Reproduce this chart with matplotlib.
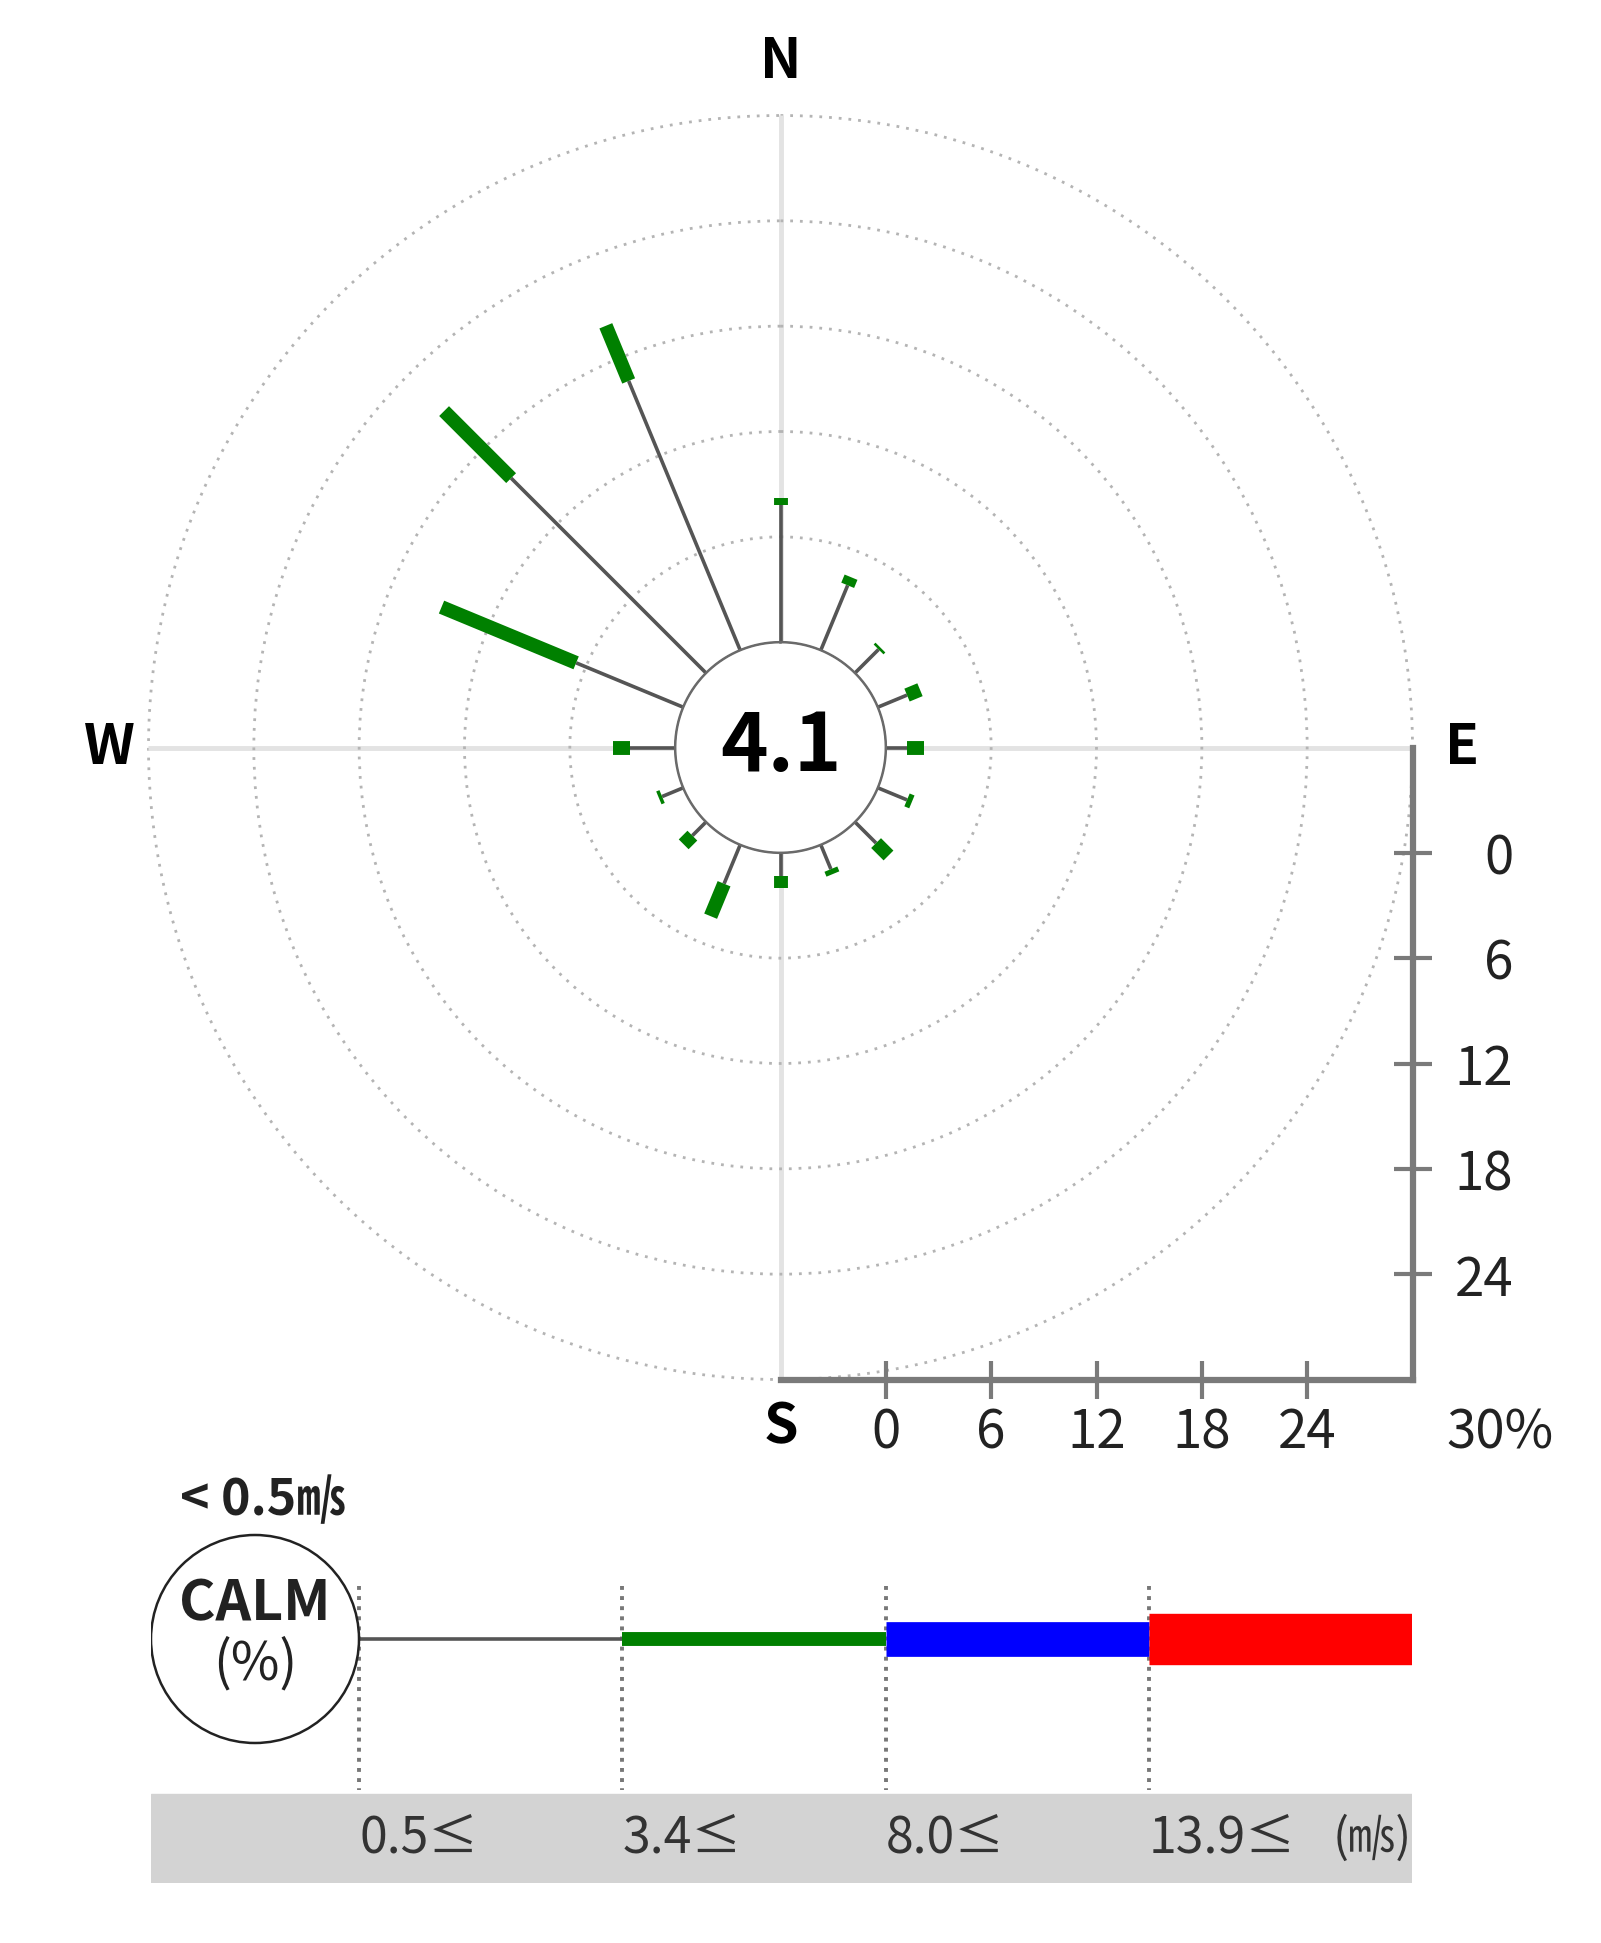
import numpy as np
import matplotlib.pyplot as plt
from matplotlib.patches import Circle

plt.rcParams.update({
    "font.family": ["Noto Sans CJK KR", "DejaVu Sans"],
    "axes.unicode_minus": False,
})

# ---- data (% of observations per direction and speed class) ----
DIRECTIONS = ["N", "NNE", "NE", "ENE", "E", "ESE", "SE", "SSE",
              "S", "SSW", "SW", "WSW", "W", "WNW", "NW", "NNW"]
CALM = 4.1
SPD_0_5 = [7.8, 4.0, 1.9, 1.8, 1.2, 1.8, 1.7, 1.5, 1.3, 2.4, 1.1, 1.3, 2.6, 6.6, 15.7, 16.6]
SPD_3_4 = [0.4, 0.5, 0.15, 0.8, 1.0, 0.3, 1.0, 0.3, 0.7, 2.0, 0.7, 0.2, 0.95, 8.3, 5.4, 3.4]
SPD_8_0 = [0, 0, 0, 0, 0, 0, 0, 0, 0, 0, 0, 0, 0, 0, 0, 0]
SPD_13_9 = [0, 0, 0, 0, 0, 0, 0, 0, 0, 0, 0, 0, 0, 0, 0, 0]
BIN_LABELS = ["0.5≤", "3.4≤", "8.0≤", "13.9≤"]
RING_TICKS = [0, 6, 12, 18, 24]
RINGS = [6, 12, 18, 24]
R_MAX = 30
COMPASS = ["N", "E", "S", "W"]

BIN_COLORS = ["#555555", "#008000", "#0000ff", "#ff0000"]
BIN_LW = [2.6, 10, 25, 37]
AXIS_GRAY = "#7a7a7a"
RING_STYLE = dict(color="#b4b4b4", lw=2.0, ls=(0, (1, 2.5)))
TXT = "#222222"

W, H, DPI = 1601, 1943, 100
CX, CY, RPX = 780.5, 747.5, 632   # rose centre / outer radius in pixels

fig = plt.figure(figsize=(W / DPI, H / DPI), dpi=DPI)

# ---- wind rose ----
ax = fig.add_axes([(CX - RPX) / W, (H - CY - RPX) / H, 2 * RPX / W, 2 * RPX / H],
                  projection="polar")
ax.set_theta_zero_location("N")
ax.set_theta_direction(-1)
ax.set_rlim(0, R_MAX)
ax.set_rorigin(-6)
ax.set_yticks(RINGS)
ax.yaxis.set_ticklabels([])
ax.set_thetagrids([0, 90, 180, 270], labels=["", "", "", ""])
ax.yaxis.grid(True, **RING_STYLE)
ax.xaxis.grid(True, color="#e3e3e3", lw=3.5)
ax.tick_params(axis="x", length=0)
for sp in ax.spines.values():
    sp.set_visible(False)

ring = np.linspace(0, 2 * np.pi, 400)
ax.plot(ring, np.full_like(ring, R_MAX), clip_on=False, zorder=1, **RING_STYLE)

# compass letters just outside the outer ring (offsets in points)
compass_off = [(0, 38.5), (35.6, 0), (0, -34.2), (-28.4, 0)]
for name, ang, off in zip(COMPASS, [0, 90, 180, 270], compass_off):
    ax.annotate(name, xy=(np.deg2rad(ang), R_MAX), xytext=off,
                textcoords="offset points", ha="center", va="center",
                fontsize=40, fontweight="bold", color="black",
                annotation_clip=False)

theta = np.deg2rad(np.arange(len(DIRECTIONS)) * 360 / len(DIRECTIONS))
bins = [SPD_0_5, SPD_3_4, SPD_8_0, SPD_13_9]
for k, th in enumerate(theta):
    base = 0
    for vals, c, lw in zip(bins, BIN_COLORS, BIN_LW):
        v = vals[k]
        if v > 0:
            ax.plot([th, th], [base, base + v], color=c, lw=lw,
                    solid_capstyle="butt", zorder=3)
        base += v

ax.plot(ring, np.zeros_like(ring), color="#6a6a6a", lw=1.8, clip_on=False, zorder=4)
ax.text(0.5, 0.5, f"{CALM}", transform=ax.transAxes, ha="center", va="center",
        fontsize=58, fontweight="bold", color="black")

# ---- percentage scale (bottom-right quadrant) ----
sax = fig.add_axes([CX / W, (H - CY - RPX) / H, RPX / W, RPX / H])
sax.set_xlim(-6, R_MAX)
sax.set_ylim(R_MAX, -6)
sax.patch.set_alpha(0)
for s in ["top", "left"]:
    sax.spines[s].set_visible(False)
for s in ["right", "bottom"]:
    sax.spines[s].set_color(AXIS_GRAY)
    sax.spines[s].set_linewidth(4.5)
sax.xaxis.tick_bottom()
sax.yaxis.tick_right()
sax.set_xticks(RING_TICKS, [str(t) for t in RING_TICKS])
sax.set_yticks(RING_TICKS, [str(t) for t in RING_TICKS])
sax.tick_params(direction="inout", length=27, width=3, color=AXIS_GRAY,
                labelsize=38, labelcolor=TXT)
sax.tick_params(axis="x", pad=5)
sax.tick_params(axis="y", pad=59)
for lbl in sax.get_yticklabels():
    lbl.set_ha("right")
sax.annotate(f"{R_MAX}%", xy=(R_MAX, R_MAX), xytext=(63, -18.5),
             textcoords="offset points", ha="center", va="top",
             fontsize=38, color=TXT, annotation_clip=False)

# ---- speed legend ----
STEP = 263.3
LX0, LY = 359, 1639
lx_left, lx_right, ly_top, ly_bot = 151, 1412, 1470, 1883
lax = fig.add_axes([lx_left / W, (H - ly_bot) / H, (lx_right - lx_left) / W,
                    (ly_bot - ly_top) / H])
lax.set_xlim((lx_left - LX0) / STEP, (lx_right - LX0) / STEP)
lax.set_ylim(-(ly_bot - LY) / STEP, (LY - ly_top) / STEP)
lax.set_axis_off()

calm_r = (LX0 - lx_left) / STEP / 2
lax.add_patch(Circle((-calm_r, 0), calm_r, facecolor="white",
                     edgecolor="#222222", lw=1.8, zorder=3))
lax.text(-calm_r, 0.13, "CALM", ha="center", va="center", fontsize=40,
         fontweight="bold", color=TXT, zorder=4)
lax.text(-calm_r, -0.095, "(%)", ha="center", va="center", fontsize=38,
         color=TXT, zorder=4)
lax.text(-calm_r + 0.03, 0.525, "< 0.5㎧", ha="center", va="center",
         fontsize=36, fontweight="bold", color=TXT)

band_lo, band_hi = -0.927, -0.589
lax.axhspan(band_lo, band_hi, color="#d3d3d3", zorder=0)
for i, (lab, c, lw) in enumerate(zip(BIN_LABELS, BIN_COLORS, BIN_LW)):
    lax.plot([i, i], [0.201, -0.573], color="#777777", lw=2.8,
             ls=(0, (1, 1.6)), zorder=1)
    lax.plot([i, i + 1], [0, 0], color=c, lw=lw, solid_capstyle="butt", zorder=2)
    lax.text(i, (band_lo + band_hi) / 2, lab, ha="left", va="center",
             fontsize=36, color="#333333")
lax.text(len(BIN_LABELS), (band_lo + band_hi) / 2, "(㎧)", ha="right",
         va="center", fontsize=34, color="#333333")

fig.savefig("out.png", dpi=DPI, facecolor="white")
